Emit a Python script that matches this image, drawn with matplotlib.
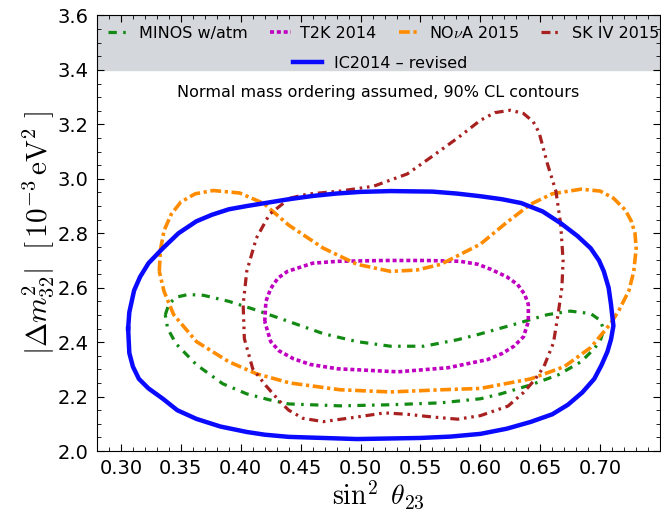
import matplotlib
matplotlib.use("Agg")
import matplotlib.pyplot as plt
from matplotlib.ticker import MultipleLocator

plt.rcParams['mathtext.fontset'] = 'cm'
plt.rcParams['font.family'] = 'DejaVu Sans'

# 90% CL contours (sin^2 theta23, |dm^2_32| in 1e-3 eV^2)
ic_x = [0.306, 0.307, 0.311, 0.316, 0.323, 0.335, 0.348, 0.363, 0.376, 0.390,
        0.405, 0.419, 0.440, 0.460, 0.480, 0.500, 0.525, 0.560, 0.580, 0.600,
        0.618, 0.634, 0.652, 0.667, 0.681, 0.692, 0.699, 0.703, 0.707, 0.709,
        0.711, 0.709, 0.706, 0.701, 0.695, 0.685, 0.673, 0.660, 0.642, 0.622,
        0.600, 0.575, 0.550, 0.497, 0.440, 0.420, 0.405, 0.383, 0.363, 0.347,
        0.335, 0.323, 0.315, 0.310, 0.307, 0.306]
ic_y = [2.450, 2.510, 2.590, 2.640, 2.690, 2.745, 2.800, 2.844, 2.868, 2.888,
        2.900, 2.910, 2.925, 2.937, 2.946, 2.952, 2.955, 2.953, 2.946, 2.936,
        2.925, 2.911, 2.880, 2.837, 2.790, 2.745, 2.700, 2.660, 2.600, 2.538,
        2.460, 2.410, 2.365, 2.315, 2.265, 2.215, 2.170, 2.135, 2.107, 2.082,
        2.063, 2.053, 2.048, 2.044, 2.052, 2.060, 2.070, 2.090, 2.118, 2.150,
        2.192, 2.230, 2.265, 2.310, 2.360, 2.450]

minos_x = [0.337, 0.340, 0.346, 0.356, 0.369, 0.390, 0.410, 0.440, 0.469, 0.497,
           0.525, 0.553, 0.581, 0.598, 0.628, 0.656, 0.675, 0.692, 0.700, 0.703,
           0.700, 0.695, 0.684, 0.665, 0.642, 0.617, 0.600, 0.567, 0.525, 0.483,
           0.440, 0.424, 0.405, 0.385, 0.363, 0.346, 0.339, 0.337]
minos_y = [2.500, 2.540, 2.565, 2.575, 2.572, 2.550, 2.522, 2.476, 2.431, 2.402,
           2.385, 2.385, 2.409, 2.428, 2.465, 2.501, 2.514, 2.505, 2.480, 2.445,
           2.405, 2.376, 2.328, 2.280, 2.243, 2.210, 2.192, 2.177, 2.170, 2.166,
           2.173, 2.188, 2.210, 2.247, 2.317, 2.394, 2.450, 2.500]

t2k_x = [0.420, 0.421, 0.425, 0.431, 0.439, 0.460, 0.481, 0.520, 0.555, 0.583,
         0.598, 0.609, 0.622, 0.631, 0.637, 0.640, 0.640, 0.636, 0.628, 0.618,
         0.606, 0.573, 0.531, 0.481, 0.458, 0.444, 0.432, 0.425, 0.420]
t2k_y = [2.476, 2.550, 2.597, 2.635, 2.660, 2.690, 2.697, 2.700, 2.700, 2.697,
         2.686, 2.667, 2.640, 2.612, 2.575, 2.538, 2.476, 2.420, 2.385, 2.358,
         2.336, 2.306, 2.291, 2.302, 2.318, 2.339, 2.368, 2.402, 2.476]

nova_x = [0.332, 0.333, 0.336, 0.342, 0.350, 0.362, 0.377, 0.399, 0.419, 0.440,
          0.469, 0.497, 0.525, 0.547, 0.567, 0.600, 0.622, 0.642, 0.660, 0.684,
          0.700, 0.711, 0.721, 0.726, 0.729, 0.730, 0.728, 0.724, 0.716, 0.709,
          0.692, 0.670, 0.642, 0.600, 0.567, 0.525, 0.483, 0.441, 0.413, 0.390,
          0.363, 0.344, 0.336, 0.332]
nova_y = [2.660, 2.740, 2.810, 2.870, 2.915, 2.945, 2.957, 2.948, 2.910, 2.830,
          2.745, 2.686, 2.660, 2.665, 2.686, 2.760, 2.840, 2.907, 2.945, 2.962,
          2.955, 2.929, 2.885, 2.844, 2.800, 2.745, 2.660, 2.590, 2.520, 2.470,
          2.380, 2.310, 2.265, 2.230, 2.225, 2.217, 2.225, 2.250, 2.284, 2.328,
          2.402, 2.501, 2.586, 2.660]

sk_x = [0.441, 0.456, 0.483, 0.511, 0.539, 0.558, 0.581, 0.600, 0.612, 0.625,
        0.636, 0.644, 0.649, 0.656, 0.663, 0.667, 0.669, 0.668, 0.665, 0.661,
        0.653, 0.645, 0.636, 0.623, 0.600, 0.581, 0.560, 0.539, 0.520, 0.497,
        0.469, 0.452, 0.440, 0.432, 0.421, 0.410, 0.403, 0.402, 0.405, 0.413,
        0.424, 0.441]
sk_y = [2.929, 2.944, 2.955, 2.973, 3.018, 3.077, 3.150, 3.215, 3.243, 3.252,
        3.240, 3.210, 3.170, 3.054, 2.955, 2.833, 2.700, 2.600, 2.508, 2.398,
        2.310, 2.260, 2.215, 2.165, 2.130, 2.117, 2.125, 2.135, 2.140, 2.125,
        2.108, 2.120, 2.150, 2.185, 2.240, 2.302, 2.413, 2.538, 2.660, 2.782,
        2.870, 2.929]

labels = ['MINOS w/atm', 'T2K 2014', r'NO$\nu$A 2015', 'SK IV 2015']
ic_label = 'IC2014 \u2013 revised'

fig = plt.figure(figsize=(6.61, 5.29), dpi=100)
ax = fig.add_axes([0.1467, 0.1474, 0.852, 0.8233])

ax.axhspan(3.4, 3.6, color='#d4d7db', zorder=0)

kw = dict(solid_joinstyle='round', dash_joinstyle='round')
l_minos, = ax.plot(minos_x, minos_y, color='#138a13', lw=2.3,
                   ls=(0, (2.6, 2.0, 0.8, 2.0)), **kw)
l_t2k, = ax.plot(t2k_x, t2k_y, color='#c000c0', lw=2.6, ls=(0, (1.1, 0.8)), **kw)
l_nova, = ax.plot(nova_x, nova_y, color='#ff8c00', lw=2.6,
                  ls=(0, (3.0, 1.0, 0.9, 1.0)), **kw)
l_sk, = ax.plot(sk_x, sk_y, color='#a82020', lw=2.3,
                ls=(0, (2.8, 1.5, 0.8, 1.5, 0.8, 1.5)), **kw)
l_ic, = ax.plot(ic_x, ic_y, color='#0a0aff', lw=3.2, **kw)

ax.set_xlim(0.28, 0.75)
ax.set_ylim(2.0, 3.6)
ax.xaxis.set_minor_locator(MultipleLocator(0.01))
ax.yaxis.set_minor_locator(MultipleLocator(0.05))
ax.set_xticks([0.30, 0.35, 0.40, 0.45, 0.50, 0.55, 0.60, 0.65, 0.70])
ax.set_yticks([2.0, 2.2, 2.4, 2.6, 2.8, 3.0, 3.2, 3.4, 3.6])
ax.set_xticklabels(['%.2f' % v for v in ax.get_xticks()])
ax.set_yticklabels(['%.1f' % v for v in ax.get_yticks()])
ax.tick_params(which='both', direction='in', top=True, right=True,
               labelsize=14, pad=6)
ax.tick_params(which='major', length=5, width=0.8)
ax.tick_params(which='minor', length=3, width=0.6)

ax.set_xlabel(r'$\sin^2\ \theta_{23}$', fontsize=20, labelpad=0)
ax.set_ylabel(r'$|\Delta m^2_{32}|\ \ [\,10^{-3}\,\mathrm{eV}^2\ ]$',
              fontsize=21, labelpad=1)

ax.text(0.5, 0.824, 'Normal mass ordering assumed, 90% CL contours',
        transform=ax.transAxes, ha='center', va='center', fontsize=11.5)

leg1 = ax.legend([l_minos, l_t2k, l_nova, l_sk], labels, ncol=4,
                 loc='center', bbox_to_anchor=(0.509, 0.96), frameon=False,
                 fontsize=11.5, handlelength=1.3, handletextpad=0.6,
                 columnspacing=1.4, borderpad=0, borderaxespad=0)
ax.add_artist(leg1)
ax.legend([l_ic], [ic_label], loc='center', bbox_to_anchor=(0.503, 0.89),
          frameon=False, fontsize=11.5, handlelength=1.8, handletextpad=0.8,
          borderpad=0, borderaxespad=0)

fig.savefig('out.png', dpi=100)
